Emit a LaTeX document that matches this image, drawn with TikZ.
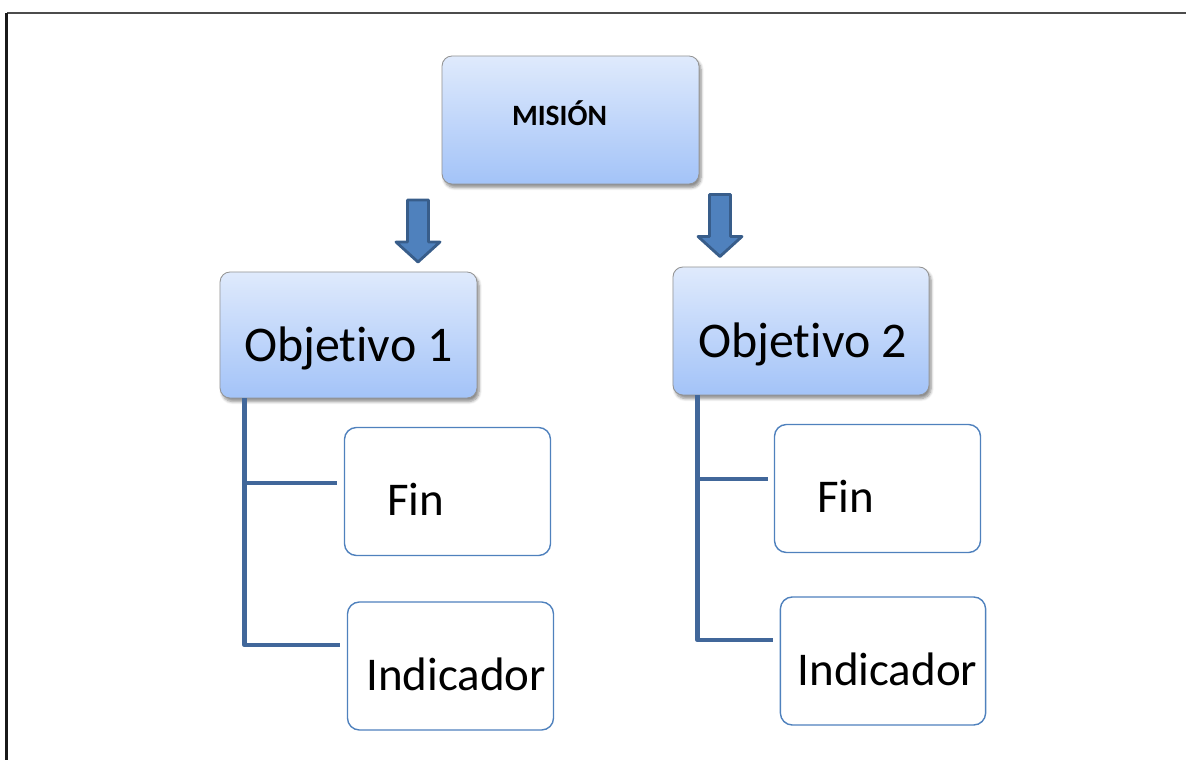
\documentclass[tikz,border=0pt]{standalone}
\usepackage{fontspec}
\setmainfont{Carlito}[Ligatures={NoCommon}]
\usetikzlibrary{positioning,calc,shadows,shadows.blur}
\definecolor{misionTop}{RGB}{223,234,252}
\definecolor{misionBot}{RGB}{163,195,248}
\definecolor{boxLine}{RGB}{79,129,189}
\definecolor{treeLine}{RGB}{65,103,154}
\definecolor{arrFill}{RGB}{79,129,189}
\definecolor{arrLine}{RGB}{56,93,138}
\tikzset{
    bluebox/.style ={draw=gray!85, line width=0.6pt, rounded corners=0.25cm,
        top color=misionTop, bottom color=misionBot,
        blur shadow={shadow xshift=1.5pt, shadow yshift=-2.5pt, shadow blur steps=6, shadow blur radius=2pt, shadow opacity=45}},
    subbox/.style ={draw=boxLine, line width=1pt, rounded corners=0.3cm, fill=white,
        minimum width=5.15cm, minimum height=3.2cm},
    tree/.style={draw=treeLine, line width=3.4pt, line join=round}
}

\begin{document}
\begin{tikzpicture}[
  x=0.025cm, y=-0.025cm,
  bigtxt/.style={font=\fontsize{35.5}{40}\selectfont, anchor=base, inner sep=0pt},
  subtxt/.style={font=\fontsize{33.4}{38}\selectfont, anchor=base, inner sep=0pt},
  blockarrow/.style={fill=arrFill, draw=arrLine, line width=2pt, line join=round}
]
\useasboundingbox (0,0) rectangle (1186,760);

% Frame
\draw[line width=1.5pt, black!70] (1186,13) -- (6.5,13);
\draw[line width=1.5pt, black!90] (6.5,13) -- (6.5,760);

% Nodes
\node[bluebox, minimum width=6.42cm, minimum height=3.2cm] (mision) at (570.5,120) {};
\node[bigtxt, font=\bfseries\fontsize{21}{24}\selectfont] (misionTxt)
  at ([xshift=-0.275cm, yshift=-0.15cm]mision.center) {MISIÓN};

\node[bluebox, minimum width=6.42cm, minimum height=3.15cm] (obj1) at (348.5,335) {};
\node[bluebox, minimum width=6.4cm, minimum height=3.2cm] (obj2) at (801,331) {};
\node[bigtxt] (obj1Txt) at ([yshift=-0.65cm]obj1.center) {Objetivo 1};
\node[bigtxt] (obj2Txt) at ([xshift=0.04cm, yshift=-0.65cm]obj2.center) {Objetivo 2};

\node[subbox] (fin1) at (447.5,491.5) {};
\node[subbox] (ind1) at (450.5,666) {};
\node[subbox] (fin2) at (877.5,488.5) {};
\node[subbox, minimum width=5.13cm] (ind2) at (883,661) {};
\node[subtxt] (fin1Txt) at ([xshift=-0.79cm, yshift=-0.61cm]fin1.center) {Fin};
\node[subtxt] (ind1Txt) at ([xshift=0.14cm, yshift=-0.6cm]ind1.center) {Indicador};
\node[subtxt] (fin2Txt) at ([xshift=-0.79cm, yshift=-0.61cm]fin2.center) {Fin};
\node[subtxt] (ind2Txt) at ([xshift=0.11cm, yshift=-0.62cm]ind2.center) {Indicador};

% Block arrows under the mission box
\foreach \ax/\ay in {418/200, 720/194.5}
  \draw[blockarrow] (\ax-10.5,\ay) -- (\ax+10.5,\ay) -- (\ax+10.5,\ay+42)
    -- (\ax+22,\ay+42) -- (\ax,\ay+62) -- (\ax-22,\ay+42) -- (\ax-10.5,\ay+42) -- cycle;

% Tree lines
\coordinate (t1) at ([xshift=0.625cm]obj1.south west);
\coordinate (f1) at ([xshift=-0.175cm, yshift=0.21cm]fin1.west);
\coordinate (i1) at ([xshift=-0.175cm, yshift=0.525cm]ind1.west);
\draw[tree] (t1) |- (i1);
\draw[tree] (t1 |- f1) -- (f1);

\coordinate (t2) at ([xshift=0.625cm]obj2.south west);
\coordinate (f2) at ([xshift=-0.15cm, yshift=0.24cm]fin2.west);
\coordinate (i2) at ([xshift=-0.175cm, yshift=0.525cm]ind2.west);
\draw[tree] (t2) |- (i2);
\draw[tree] (t2 |- f2) -- (f2);
\end{tikzpicture}
\end{document}
